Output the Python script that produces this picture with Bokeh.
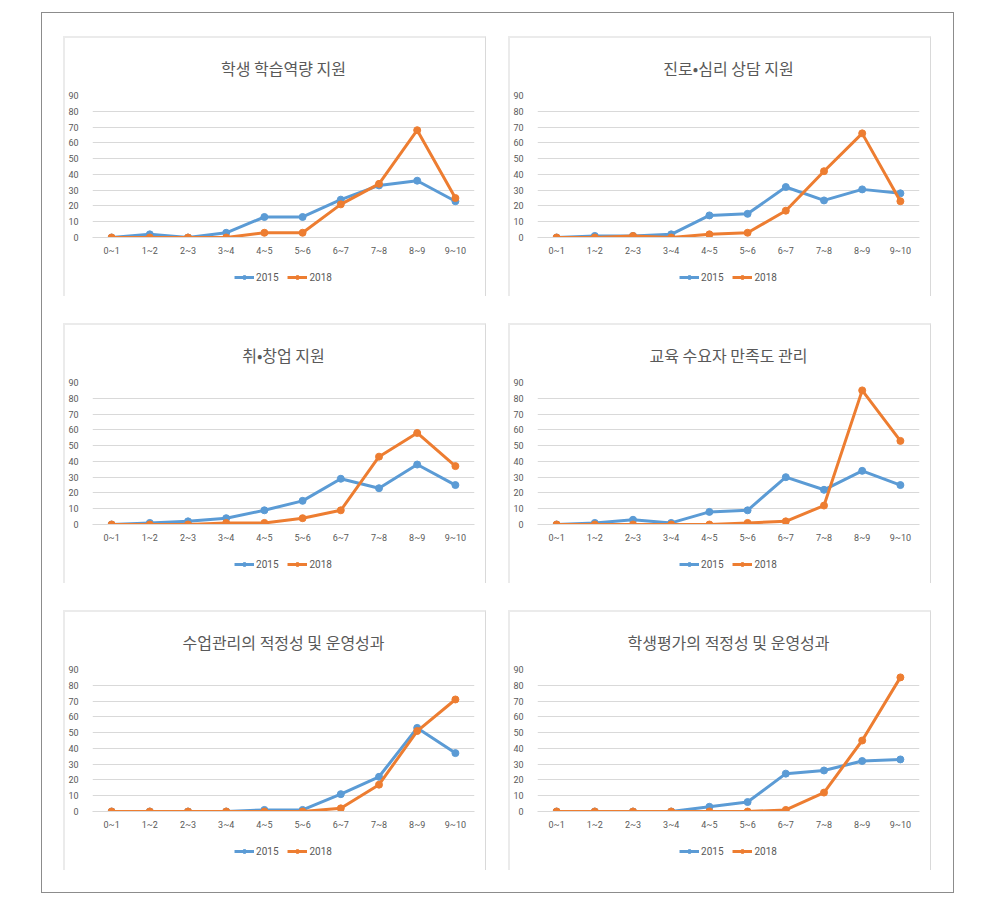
from bokeh.plotting import figure
from bokeh.models import Legend, LegendItem, Range1d, FactorRange
from bokeh.layouts import row, column
from bokeh.embed import file_html
from bokeh.resources import INLINE

categories = ["0~1", "1~2", "2~3", "3~4", "4~5", "5~6", "6~7", "7~8", "8~9", "9~10"]
series_names = ["2015", "2018"]
y_ticks = [0, 10, 20, 30, 40, 50, 60, 70, 80, 90]

titles = [
    "학생 학습역량 지원",
    "진로•심리 상담 지원",
    "취•창업 지원",
    "교육 수요자 만족도 관리",
    "수업관리의 적정성 및 운영성과",
    "학생평가의 적정성 및 운영성과",
]

s2015_study = [0, 2, 0, 3, 13, 13, 24, 33, 36, 23]
s2018_study = [0, 0, 0, 0, 3, 3, 21, 34, 68, 25]
s2015_career = [0, 1, 1, 2, 14, 15, 32, 23.5, 30.5, 28]
s2018_career = [0, 0, 1, 0, 2, 3, 17, 42, 66, 23]
s2015_job = [0, 1, 2, 4, 9, 15, 29, 23, 38, 25]
s2018_job = [0, 0, 0, 1, 1, 4, 9, 43, 58, 37]
s2015_satis = [0, 1, 3, 1, 8, 9, 30, 22, 34, 25]
s2018_satis = [0, 0, 0, 0, 0, 1, 2, 12, 85, 53]
s2015_class = [0, 0, 0, 0, 1, 1, 11, 22, 53, 37]
s2018_class = [0, 0, 0, 0, 0, 0, 2, 17, 51, 71]
s2015_eval = [0, 0, 0, 0, 3, 6, 24, 26, 32, 33]
s2018_eval = [0, 0, 0, 0, 0, 0, 1, 12, 45, 85]

data = [
    (s2015_study, s2018_study),
    (s2015_career, s2018_career),
    (s2015_job, s2018_job),
    (s2015_satis, s2018_satis),
    (s2015_class, s2018_class),
    (s2015_eval, s2018_eval),
]

colors = ["#5B9BD5", "#ED7D31"]
TXT = "#595959"
TICK_FONT = "Roboto"

W = 420
H_MAIN = 220
H_LEG = 38
ML, MR, MT, MB = 22, 11, 52, 19


def make_panel(title, a, b):
    p = figure(
        x_range=FactorRange(factors=categories, range_padding=0),
        y_range=Range1d(0, 90),
        width=W, height=H_MAIN,
        output_backend="svg", toolbar_location=None,
        min_border_left=ML, min_border_right=MR,
        min_border_top=MT, min_border_bottom=MB,
        outline_line_color=None,
    )
    p.title.text = title
    p.title.align = "center"
    p.title.text_font = "Noto Sans CJK KR"
    p.title.text_font_size = "16px"
    p.title.text_font_style = "normal"
    p.title.text_color = TXT
    p.title.standoff = 31

    p.xgrid.grid_line_color = None
    p.ygrid.grid_line_color = "#d9d9d9"
    p.yaxis.ticker = y_ticks
    for ax in (p.xaxis[0], p.yaxis[0]):
        ax.major_tick_line_color = None
        ax.minor_tick_line_color = None
        ax.major_label_text_font = TICK_FONT
        ax.major_label_text_font_size = "9px"
        ax.major_label_text_color = TXT
    p.yaxis.axis_line_color = None
    p.xaxis.axis_line_color = "#d9d9d9"
    p.yaxis.major_label_standoff = 8
    p.xaxis.major_label_standoff = 2

    for vals, c in zip((a, b), colors):
        p.line(categories, vals, line_color=c, line_width=3)
        p.scatter(categories, vals, size=7, fill_color=c, line_color=c)

    # legend strip: same series, drawn out of view so only the legend shows
    lg = figure(
        x_range=FactorRange(factors=categories, range_padding=0),
        y_range=Range1d(1000, 1001),
        width=W, height=H_LEG,
        output_backend="svg", toolbar_location=None,
        x_axis_location=None, y_axis_location=None,
        min_border=0, outline_line_color=None,
    )
    lg.xgrid.grid_line_color = None
    lg.ygrid.grid_line_color = None
    items = []
    for name, vals, c in zip(series_names, (a, b), colors):
        l = lg.line(categories, vals, line_color=c, line_width=3)
        s = lg.scatter(categories, vals, size=7, fill_color=c, line_color=c)
        items.append(LegendItem(label=name, renderers=[l, s]))
    leg = Legend(items=items, orientation="horizontal", location="center",
                 glyph_width=20, glyph_height=10, label_standoff=2, spacing=9,
                 padding=4, margin=0, border_line_color=None,
                 background_fill_alpha=0, label_height=12,
                 label_text_font=TICK_FONT, label_text_font_size="10px",
                 label_text_color=TXT)
    lg.add_layout(leg)

    return column(p, lg, styles={"border-left": "2px solid #ebebeb",
                                 "border-top": "2px solid #ebebeb",
                                 "border-right": "1px solid #d9d9d9"})


panels = [make_panel(t, a, b) for t, (a, b) in zip(titles, data)]

layout = column(
    row(panels[0], panels[1], spacing=22),
    row(panels[2], panels[3], spacing=22),
    row(panels[4], panels[5], spacing=22),
    spacing=27,
    margin=(12, 0, 0, 41),
    styles={"border": "1px solid #8c8c8c", "padding": "23px 22px 22px 21px"},
)

open("out.html", "w").write(file_html(layout, INLINE))
